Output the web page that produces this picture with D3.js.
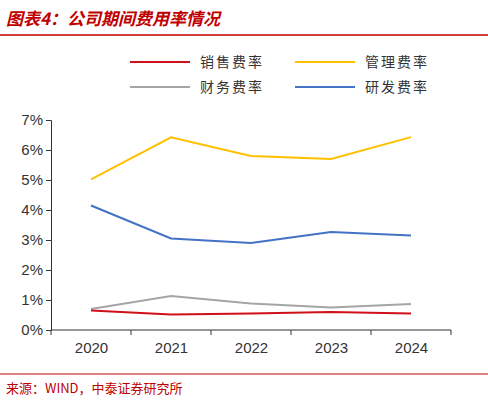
<!DOCTYPE html>
<html><head><meta charset="utf-8">
<script src="https://cdn.jsdelivr.net/npm/d3@7"></script>
<style>body{margin:0;background:#fff}</style>
</head><body><div id="chart"></div>
<script>
const years = ["2020","2021","2022","2023","2024"];
const sales = [0.65, 0.52, 0.55, 0.60, 0.55];
const admin = [5.02, 6.42, 5.80, 5.70, 6.43];
const finance = [0.70, 1.13, 0.88, 0.75, 0.87];
const rnd = [4.15, 3.05, 2.90, 3.27, 3.15];
const seriesNames = ["销售费率", "管理费率", "财务费率", "研发费率"];
const yTicks = [0,1,2,3,4,5,6,7];

const W = 488, H = 402;
const svg = d3.select("#chart").append("svg").attr("width", W).attr("height", H);
const cjk = "'Noto Sans CJK SC', sans-serif";

svg.append("text").attr("x", 6).attr("y", 25)
    .attr("font-family", cjk).attr("font-weight", "bold").attr("font-style", "italic")
    .attr("font-size", 17).attr("fill", "#c00000")
    .text("图表4：公司期间费用率情况");
svg.append("line").attr("x1", 0).attr("x2", W).attr("y1", 35).attr("y2", 35)
    .attr("stroke", "#c00000").attr("stroke-width", 1.5);

const x = d3.scalePoint().domain(years).range([91, 411]);
const y = d3.scaleLinear().domain([0, 7]).range([330, 120]);

const g = svg.append("g");
const yAxis = g.append("g").attr("transform", "translate(51,0)")
    .call(d3.axisLeft(y).tickValues(yTicks).tickFormat(d => d + "%").tickSize(5));
const xAxis = g.append("g").attr("transform", "translate(0,330)")
    .call(d3.axisBottom(x).tickSize(0));
xAxis.select(".domain").attr("d", "M51,0H451");
[51,131,211,291,371,451].forEach(v => xAxis.append("line")
    .attr("x1", v).attr("x2", v).attr("y1", 0).attr("y2", 5).attr("stroke", "#333"));
[yAxis, xAxis].forEach(a => {
    a.selectAll("path,line").attr("stroke", "#333");
    a.selectAll("text").attr("font-family", "Arial, 'Liberation Sans'").attr("font-size", 15).attr("fill", "#333");
});
xAxis.selectAll(".tick text").attr("dy", "1.3em");

const series = [
    {name: seriesNames[0], values: sales, color: "#d0101b"},
    {name: seriesNames[1], values: admin, color: "#ffc000"},
    {name: seriesNames[2], values: finance, color: "#a5a5a5"},
    {name: seriesNames[3], values: rnd, color: "#4472c4"}
];
const line = d3.line().x((d, i) => x(years[i])).y(d => y(d));
[series[2], series[0], series[3], series[1]].forEach(s => g.append("path")
    .attr("d", line(s.values)).attr("fill", "none")
    .attr("stroke", s.color).attr("stroke-width", 2));

const leg = svg.append("g");
series.forEach((s, i) => {
    const lx = 130 + (i % 2) * 165, ly = 62 + Math.floor(i / 2) * 25;
    leg.append("line").attr("x1", lx).attr("x2", lx + 60).attr("y1", ly).attr("y2", ly)
        .attr("stroke", s.color).attr("stroke-width", 2);
    leg.append("text").attr("x", lx + 70).attr("y", ly + 5)
        .attr("font-family", cjk).attr("font-size", 14).attr("fill", "#333").attr("letter-spacing", 2)
        .text(s.name);
});

svg.append("line").attr("x1", 0).attr("x2", W).attr("y1", 374).attr("y2", 374)
    .attr("stroke", "#c00000").attr("stroke-width", 1);
svg.append("text").attr("x", 6).attr("y", 393)
    .attr("font-family", cjk).attr("font-size", 13).attr("fill", "#c00000")
    .text("来源：WIND，中泰证券研究所");
</script></body></html>
